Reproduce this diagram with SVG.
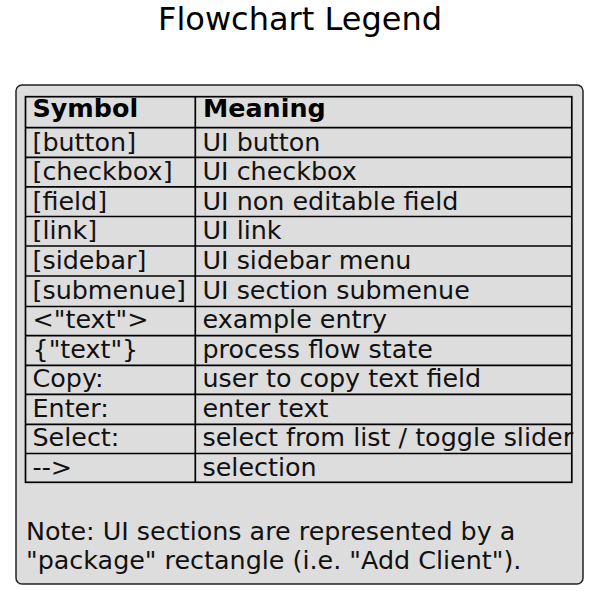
<svg xmlns="http://www.w3.org/2000/svg" width="600" height="602" viewBox="0 0 600 602">
<style>
text{font-family:"DejaVu Sans","Liberation Sans",sans-serif;fill:#000;}
.t{font-size:25.4px;fill:#111;}
.h{font-size:25.4px;font-weight:bold;}
.title{font-size:32px;}
.grid{stroke:#000;stroke-width:1.7;fill:none;}
</style>
<rect width="600" height="602" fill="#fff"/>
<text class="title" x="300" y="29.5" text-anchor="middle">Flowchart Legend</text>
<g id="legend">
<rect x="16" y="85" width="567" height="499" rx="6" fill="#dddddd" stroke="#222" stroke-width="1.5"/>
<g id="table">
<rect class="grid" x="25.5" y="96.7" width="546.3" height="385.6" stroke-width="2"/>
<line class="grid" x1="195.3" y1="96.7" x2="195.3" y2="482.3" stroke-width="1.2"/>
<path class="grid" d="M25.5 127.7H571.8M25.5 157.3H571.8M25.5 186.8H571.8M25.5 216.5H571.8M25.5 246H571.8M25.5 276H571.8M25.5 306.5H571.8M25.5 335.7H571.8M25.5 365.3H571.8M25.5 394.3H571.8M25.5 424.3H571.8M25.5 453.5H571.8"/>
<text class="h" x="32.5" y="117">Symbol</text>
<text class="h" x="203" y="117">Meaning</text>
<text class="t" x="32.5" y="150.7">[button]</text><text class="t" x="202.5" y="150.7">UI button</text>
<text class="t" x="32.5" y="180.2">[checkbox]</text><text class="t" x="202.5" y="180.2">UI checkbox</text>
<text class="t" x="32.5" y="209.8">[field]</text><text class="t" x="202.5" y="209.8">UI non editable field</text>
<text class="t" x="32.5" y="239.3">[link]</text><text class="t" x="202.5" y="239.3">UI link</text>
<text class="t" x="32.5" y="268.9">[sidebar]</text><text class="t" x="202.5" y="268.9">UI sidebar menu</text>
<text class="t" x="32.5" y="298.5">[submenue]</text><text class="t" x="202.5" y="298.5">UI section submenue</text>
<text class="t" x="32.5" y="328">&lt;"text"&gt;</text><text class="t" x="202.5" y="328">example entry</text>
<text class="t" x="32.5" y="357.6">{"text"}</text><text class="t" x="202.5" y="357.6">process flow state</text>
<text class="t" x="32.5" y="387.1">Copy:</text><text class="t" x="202.5" y="387.1">user to copy text field</text>
<text class="t" x="32.5" y="416.7">Enter:</text><text class="t" x="202.5" y="416.7">enter text</text>
<text class="t" x="32.5" y="446.2">Select:</text><text class="t" x="202.5" y="446.2">select from list / toggle slider</text>
<text class="t" x="32.5" y="475.8">--&gt;</text><text class="t" x="202.5" y="475.8">selection</text>
</g>
<g id="note">
<text class="t" x="26" y="540">Note: UI sections are represented by a</text>
<text class="t" x="26" y="568.5">"package" rectangle (i.e. "Add Client").</text>
</g>
</g>
</svg>
